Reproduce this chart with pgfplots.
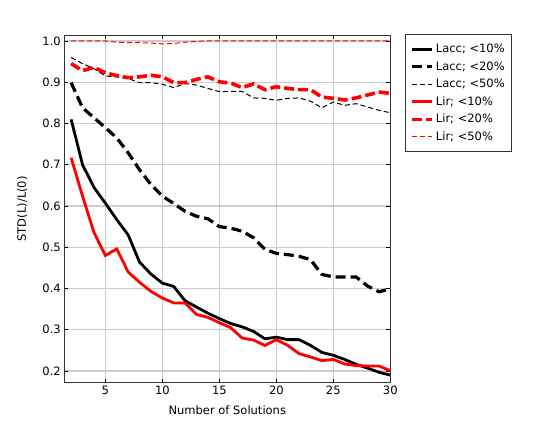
\documentclass[border=0pt]{standalone}
\usepackage{fontspec}
\setmainfont{DejaVu Sans}
\usepackage{pgfplots}
\pgfplotsset{compat=1.18}

\definecolor{gridgray}{RGB}{204,204,204}
\newcommand{\chartfont}{\fontsize{11.5}{13}\selectfont}

\begin{document}
\begin{tikzpicture}
\path[use as bounding box] (-64.3pt,-63.3pt) rectangle (480.7pt,382.7pt);
\begin{axis}[
    at={(0pt,0pt)}, anchor=south west,
    scale only axis,
    width=326pt, height=347.7pt,
    xmin=1.4, xmax=30,
    ymin=0.1716, ymax=1.0145,
    xtick={5,10,...,30},
    ytick={0.2,0.3,...,1.0},
    yticklabel style={/pgf/number format/.cd,fixed,fixed zerofill,precision=1},
    /pgf/number format/assume math mode=true,
    ticklabel style={font=\chartfont},
    grid=major,
    major grid style={gridgray, line width=1.3pt},
    axis line style={black!80, line width=0.9pt},
    major tick length=4pt,
    tick style={black, line width=0.8pt},
    xlabel={Number of Solutions},
    ylabel={STD(L)/L(0)},
    label style={font=\chartfont},
    xlabel style={at={(axis description cs:0.5,-0.0786)}, anchor=center},
    ylabel style={at={(axis description cs:-0.129,0.5)}, anchor=center},
    legend cell align=left,
    legend image code/.code={\draw[#1] (0pt,0pt) -- (20pt,0pt);},
    legend style={at={(1.044,1.003)}, anchor=north west, font=\chartfont,
        draw=black!80, line width=0.9pt, inner xsep=5pt, inner ysep=7pt,
        nodes={inner sep=2.2pt, text height=9pt, text depth=2.5pt},
        row sep=1.6pt},
]
\addplot[black, line width=2.8pt] coordinates {
(2,0.81) (3,0.70) (4,0.645) (5,0.607) (6,0.567) (7,0.53) (8,0.464) (9,0.435)
(10,0.413) (11,0.405) (12,0.37) (13,0.355) (14,0.34) (15,0.327) (16,0.315)
(17,0.307) (18,0.296) (19,0.278) (20,0.282) (21,0.276) (22,0.276) (23,0.262)
(24,0.245) (25,0.238) (26,0.228) (27,0.216) (28,0.207) (29,0.197) (30,0.19)
};
\addlegendentry{Lacc; <10\%}
\addplot[black, line width=3.2pt, dash pattern=on 10pt off 5pt] coordinates {
(2,0.899) (3,0.838) (4,0.814) (5,0.79) (6,0.765) (7,0.729) (8,0.688) (9,0.652)
(10,0.624) (11,0.606) (12,0.587) (13,0.575) (14,0.569) (15,0.55) (16,0.546)
(17,0.539) (18,0.523) (19,0.495) (20,0.485) (21,0.482) (22,0.478) (23,0.47)
(24,0.434) (25,0.428) (26,0.428) (27,0.428) (28,0.406) (29,0.392) (30,0.399)
};
\addlegendentry{Lacc; <20\%}
\addplot[black, line width=1pt, dash pattern=on 5pt off 3pt] coordinates {
(2,0.96) (3,0.945) (4,0.933) (5,0.915) (6,0.913) (7,0.909) (8,0.899) (9,0.899)
(10,0.895) (11,0.887) (12,0.897) (13,0.893) (14,0.885) (15,0.877) (16,0.878)
(17,0.878) (18,0.862) (19,0.861) (20,0.856) (21,0.861) (22,0.862) (23,0.854)
(24,0.838) (25,0.852) (26,0.844) (27,0.848) (28,0.84) (29,0.832) (30,0.826)
};
\addlegendentry{Lacc; <50\%}
\addplot[red, line width=2.8pt] coordinates {
(2,0.717) (3,0.624) (4,0.536) (5,0.48) (6,0.496) (7,0.44) (8,0.415) (9,0.393)
(10,0.377) (11,0.365) (12,0.365) (13,0.337) (14,0.33) (15,0.317) (16,0.305)
(17,0.28) (18,0.275) (19,0.262) (20,0.276) (21,0.262) (22,0.242) (23,0.234)
(24,0.225) (25,0.228) (26,0.217) (27,0.213) (28,0.212) (29,0.212) (30,0.201)
};
\addlegendentry{Lir; <10\%}
\addplot[red, line width=3.6pt, dash pattern=on 10pt off 4pt] coordinates {
(2,0.945) (3,0.928) (4,0.936) (5,0.923) (6,0.916) (7,0.911) (8,0.913) (9,0.917)
(10,0.913) (11,0.899) (12,0.899) (13,0.907) (14,0.913) (15,0.901) (16,0.898)
(17,0.887) (18,0.896) (19,0.882) (20,0.889) (21,0.885) (22,0.882) (23,0.882)
(24,0.864) (25,0.861) (26,0.857) (27,0.862) (28,0.869) (29,0.876) (30,0.873)
};
\addlegendentry{Lir; <20\%}
\addplot[red, line width=1pt, dash pattern=on 5pt off 3pt] coordinates {
(2,1.0) (3,1.0) (4,1.0) (5,1.0) (6,0.997) (7,0.996) (8,0.996) (9,0.995)
(10,0.993) (11,0.994) (12,0.997) (13,0.999) (14,1.0) (15,1.0) (16,1.0)
(17,1.0) (18,1.0) (19,1.0) (20,1.0) (21,1.0) (22,1.0) (23,1.0)
(24,1.0) (25,1.0) (26,1.0) (27,1.0) (28,1.0) (29,1.0) (30,1.0)
};
\addlegendentry{Lir; <50\%}
\end{axis}
\end{tikzpicture}
\end{document}
